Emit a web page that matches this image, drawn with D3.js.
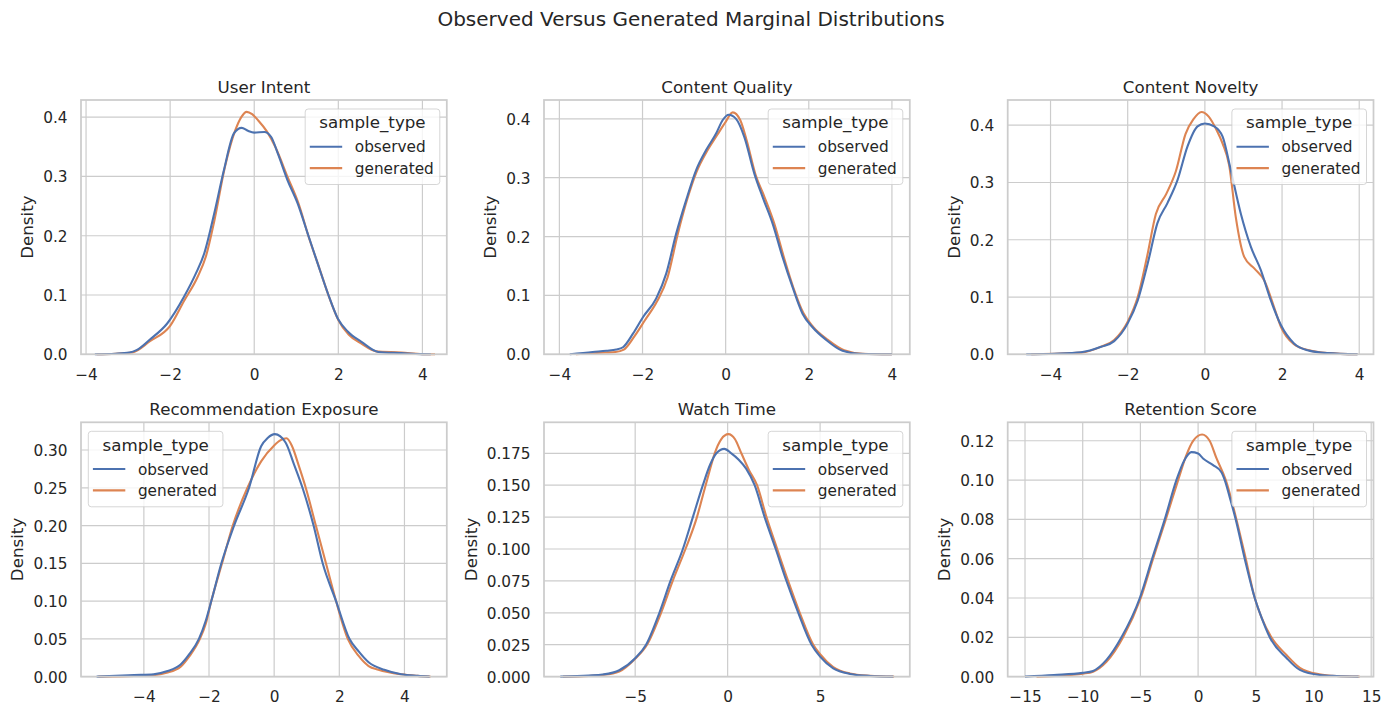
<!DOCTYPE html>
<html>
<head>
<meta charset="utf-8">
<script src="https://cdn.jsdelivr.net/npm/d3@7"></script>
<style>
  body { margin: 0; background: #fff; }
  svg { display: block; font-family: "DejaVu Sans", sans-serif; }
</style>
</head>
<body>
<svg id="chart" width="1390" height="715"></svg>
<script>
// kde curves, [x, density]
var intentObserved = [[-3.79,0],[-3.3,0.001],[-2.97,0.003],[-2.8,0.007],[-2.48,0.025],[-2.07,0.052],[-1.67,0.097],[-1.39,0.136],[-1.19,0.17],[-0.95,0.238],[-0.72,0.311],[-0.48,0.373],[-0.3,0.382],[-0.15,0.377],[0,0.374],[0.24,0.375],[0.4,0.367],[0.56,0.339],[0.79,0.294],[1.03,0.255],[1.27,0.204],[1.51,0.153],[1.75,0.103],[1.99,0.06],[2.23,0.038],[2.55,0.021],[2.95,0.004],[3.5,0.002],[3.98,0.0003],[4.2,0]];
var intentGenerated = [[-3.75,0],[-3.3,0.001],[-2.9,0.003],[-2.48,0.022],[-2.0,0.048],[-1.67,0.09],[-1.35,0.13],[-1.15,0.165],[-0.95,0.225],[-0.7,0.315],[-0.45,0.378],[-0.3,0.401],[-0.18,0.409],[-0.05,0.405],[0.1,0.394],[0.3,0.376],[0.5,0.35],[0.8,0.298],[1.05,0.255],[1.3,0.197],[1.55,0.145],[1.8,0.093],[2.0,0.058],[2.25,0.033],[2.55,0.018],[2.9,0.005],[3.5,0.003],[4.0,0.0003],[4.3,0]];

var qualityObserved = [[-3.75,0],[-3.2,0.004],[-2.87,0.006],[-2.63,0.008],[-2.47,0.012],[-2.23,0.035],[-1.99,0.063],[-1.67,0.095],[-1.43,0.137],[-1.19,0.205],[-0.95,0.262],[-0.71,0.313],[-0.47,0.347],[-0.23,0.375],[-0.07,0.398],[0.07,0.407],[0.25,0.4],[0.45,0.369],[0.69,0.307],[0.89,0.267],[1.13,0.222],[1.37,0.165],[1.61,0.114],[1.85,0.069],[2.09,0.046],[2.41,0.025],[2.81,0.006],[3.21,0.001],[4.0,0]];
var qualityGenerated = [[-3.6,0],[-2.9,0.003],[-2.65,0.004],[-2.45,0.008],[-2.2,0.03],[-1.95,0.057],[-1.65,0.09],[-1.4,0.13],[-1.15,0.205],[-0.93,0.262],[-0.7,0.31],[-0.45,0.345],[-0.2,0.373],[0,0.395],[0.17,0.411],[0.35,0.398],[0.5,0.365],[0.72,0.305],[0.93,0.268],[1.17,0.222],[1.4,0.165],[1.63,0.113],[1.87,0.07],[2.1,0.047],[2.45,0.025],[2.85,0.007],[3.3,0.001],[4.0,0]];

var noveltyObserved = [[-4.63,0],[-3.9,0.001],[-3.21,0.0035],[-2.69,0.013],[-2.35,0.023],[-2.0,0.054],[-1.74,0.094],[-1.48,0.159],[-1.23,0.229],[-0.97,0.264],[-0.71,0.304],[-0.45,0.363],[-0.19,0.398],[0,0.403],[0.24,0.398],[0.46,0.38],[0.67,0.322],[0.93,0.246],[1.19,0.188],[1.45,0.147],[1.71,0.094],[1.97,0.051],[2.31,0.019],[2.66,0.007],[3.17,0.002],[3.96,0]];
var noveltyGenerated = [[-4.5,0],[-3.9,0.001],[-3.2,0.003],[-2.7,0.013],[-2.35,0.025],[-2.0,0.057],[-1.74,0.1],[-1.5,0.17],[-1.27,0.245],[-1.0,0.28],[-0.75,0.32],[-0.5,0.385],[-0.3,0.41],[-0.09,0.423],[0.1,0.415],[0.3,0.392],[0.46,0.368],[0.63,0.33],[0.8,0.24],[1.02,0.17],[1.28,0.15],[1.54,0.129],[1.79,0.083],[1.97,0.048],[2.3,0.018],[2.7,0.007],[3.2,0.002],[3.95,0]];

var exposureObserved = [[-5.45,0],[-4.3,0.002],[-3.7,0.003],[-3.3,0.007],[-2.87,0.016],[-2.6,0.03],[-2.31,0.05],[-2.1,0.074],[-1.93,0.1],[-1.62,0.15],[-1.23,0.2],[-0.77,0.25],[-0.4,0.305],[-0.2,0.316],[0.02,0.321],[0.35,0.31],[0.6,0.282],[0.87,0.25],[1.21,0.2],[1.49,0.15],[1.9,0.1],[2.31,0.05],[2.6,0.033],[2.9,0.019],[3.38,0.009],[3.9,0.003],[4.41,0.001],[4.77,0]];
var exposureGenerated = [[-5.4,0],[-4.3,0.001],[-3.7,0.002],[-3.3,0.005],[-2.87,0.013],[-2.6,0.027],[-2.28,0.05],[-2.1,0.07],[-1.93,0.1],[-1.6,0.15],[-1.27,0.2],[-0.82,0.25],[-0.4,0.285],[0,0.306],[0.2,0.313],[0.38,0.3155],[0.55,0.305],[0.75,0.28],[0.97,0.25],[1.28,0.2],[1.59,0.15],[1.9,0.1],[2.26,0.05],[2.6,0.027],[2.9,0.014],[3.2,0.009],[3.9,0.003],[4.4,0.001],[4.8,0]];

var watchObserved = [[-9.05,0],[-7.5,0.0008],[-6.76,0.0016],[-5.86,0.005],[-5.0,0.0144],[-4.41,0.025],[-3.69,0.05],[-3.09,0.075],[-2.42,0.1],[-1.88,0.125],[-1.34,0.15],[-0.95,0.166],[-0.61,0.175],[-0.18,0.1785],[0.2,0.175],[0.6,0.17],[1.0,0.163],[1.46,0.15],[2.0,0.125],[2.6,0.1],[3.18,0.075],[3.82,0.05],[4.54,0.025],[5.0,0.0157],[5.71,0.0065],[6.62,0.0021],[7.7,0.0005],[8.95,0]];
var watchGenerated = [[-8.9,0],[-7.5,0.0005],[-6.8,0.0012],[-5.86,0.004],[-5.0,0.014],[-4.36,0.025],[-3.6,0.05],[-2.97,0.075],[-2.28,0.1],[-1.66,0.125],[-1.34,0.142],[-1.0,0.16],[-0.7,0.175],[-0.35,0.186],[0.04,0.19],[0.4,0.186],[0.74,0.175],[1.15,0.162],[1.59,0.15],[2.1,0.125],[2.68,0.1],[3.27,0.075],[3.9,0.05],[4.63,0.025],[5.0,0.0175],[5.71,0.0075],[6.6,0.0025],[7.7,0.0007],[9.0,0]];

var retentionObserved = [[-15,0],[-12.5,0.0008],[-10,0.0019],[-9.1,0.0029],[-7.94,0.0085],[-6.64,0.02],[-5.05,0.04],[-3.98,0.06],[-2.89,0.08],[-1.88,0.1],[-1.2,0.11],[-0.58,0.1142],[0,0.1135],[0.43,0.111],[1.3,0.1076],[2.02,0.104],[2.31,0.1],[2.8,0.09],[3.26,0.08],[4.04,0.06],[4.91,0.04],[5.5,0.03],[6.21,0.02],[7.66,0.0095],[8.82,0.0034],[10.55,0.0008],[12,0.0003],[13.9,0]];
var retentionGenerated = [[-14,0],[-12,0.0004],[-10,0.0015],[-9.1,0.0025],[-7.94,0.0075],[-6.5,0.02],[-4.97,0.04],[-3.9,0.06],[-2.8,0.08],[-1.73,0.1],[-1.0,0.113],[-0.43,0.12],[0.35,0.1232],[1.0,0.12],[1.6,0.111],[2.4,0.1],[3.32,0.08],[4.13,0.06],[4.91,0.04],[5.5,0.03],[6.35,0.02],[7.66,0.011],[8.82,0.0045],[10.5,0.0012],[12,0.0003],[14,0]];

var titles = ['User Intent', 'Content Quality', 'Content Novelty', 'Recommendation Exposure', 'Watch Time', 'Retention Score'];
var sampleTypes = ['observed', 'generated'];
var palette = ['#4c72b0', '#dd8452'];

var xTicksSmall = [-4, -2, 0, 2, 4];
var xTicksWatch = [-5, 0, 5];
var xTicksRetention = [-15, -10, -5, 0, 5, 10, 15];
var yTicksTenth = [0, 0.1, 0.2, 0.3, 0.4];
var yTicksExposure = [0, 0.05, 0.1, 0.15, 0.2, 0.25, 0.3];
var yTicksWatch = [0, 0.025, 0.05, 0.075, 0.1, 0.125, 0.15, 0.175];
var yTicksRetention = [0, 0.02, 0.04, 0.06, 0.08, 0.1, 0.12];

// axis limits as matplotlib left them
var xLimits = [[-4.12, 4.58], [-4.37, 4.43], [-5.11, 4.37], [-5.93, 5.3], [-9.93, 9.85], [-16.5, 15.2]];
var yLimits = [0.429, 0.432, 0.444, 0.3367, 0.1993, 0.1294];

var panels = [
  { obs: intentObserved, gen: intentGenerated, xt: xTicksSmall, yt: yTicksTenth, fmt: '.1f', legend: 'right' },
  { obs: qualityObserved, gen: qualityGenerated, xt: xTicksSmall, yt: yTicksTenth, fmt: '.1f', legend: 'right' },
  { obs: noveltyObserved, gen: noveltyGenerated, xt: xTicksSmall, yt: yTicksTenth, fmt: '.1f', legend: 'right' },
  { obs: exposureObserved, gen: exposureGenerated, xt: xTicksSmall, yt: yTicksExposure, fmt: '.2f', legend: 'left' },
  { obs: watchObserved, gen: watchGenerated, xt: xTicksWatch, yt: yTicksWatch, fmt: '.3f', legend: 'right' },
  { obs: retentionObserved, gen: retentionGenerated, xt: xTicksRetention, yt: yTicksRetention, fmt: '.2f', legend: 'right' }
];

var colLeft = [81, 544, 1007.7];
var rowTop = [100, 422.3];
var panelW = 365.8;
var panelH = 254.3;
var ink = '#262626';
var gridColor = '#cccccc';

var svg = d3.select('#chart');

svg.append('text')
  .attr('x', 691)
  .attr('y', 26)
  .attr('text-anchor', 'middle')
  .attr('fill', ink)
  .style('font-size', '20px')
  .text('Observed Versus Generated Marginal Distributions');

panels.forEach(function(p, i) {
  var left = colLeft[i % 3];
  var top = rowTop[Math.floor(i / 3)];

  var x = d3.scaleLinear().domain(xLimits[i]).range([left, left + panelW]);
  var y = d3.scaleLinear().domain([0, yLimits[i]]).range([top + panelH, top]);

  var g = svg.append('g');

  g.append('rect')
    .attr('x', left).attr('y', top)
    .attr('width', panelW).attr('height', panelH)
    .attr('fill', '#fff');

  // grid
  g.selectAll('.vgrid').data(p.xt).enter().append('line')
    .attr('x1', function(d) { return x(d); }).attr('x2', function(d) { return x(d); })
    .attr('y1', top).attr('y2', top + panelH)
    .attr('stroke', gridColor).attr('stroke-width', 1.2);
  g.selectAll('.hgrid').data(p.yt).enter().append('line')
    .attr('x1', left).attr('x2', left + panelW)
    .attr('y1', function(d) { return y(d); }).attr('y2', function(d) { return y(d); })
    .attr('stroke', gridColor).attr('stroke-width', 1.2);

  // tick labels
  var xAxis = d3.axisBottom(x).tickValues(p.xt).tickSize(0).tickPadding(0).tickFormat(d3.format('d'));
  var xg = g.append('g').attr('transform', 'translate(0,' + (top + panelH) + ')').call(xAxis);
  xg.select('.domain').remove();
  xg.selectAll('text').attr('y', 25.4).attr('dy', null)
    .attr('fill', ink).style('font-size', '15.3px').style('font-family', '"DejaVu Sans", sans-serif');

  var yAxis = d3.axisLeft(y).tickValues(p.yt).tickSize(0).tickPadding(0).tickFormat(d3.format(p.fmt));
  var yg = g.append('g').attr('transform', 'translate(' + left + ',0)').call(yAxis);
  yg.select('.domain').remove();
  yg.selectAll('text').attr('x', -13.5).attr('dy', '0.36em')
    .attr('fill', ink).style('font-size', '15.3px').style('font-family', '"DejaVu Sans", sans-serif');

  var tickBox = yg.node().getBBox();
  var labelX = left + tickBox.x - 10;
  g.append('text')
    .attr('transform', 'translate(' + labelX + ',' + (top + panelH / 2) + ') rotate(-90)')
    .attr('text-anchor', 'middle')
    .attr('fill', ink)
    .style('font-size', '16.7px')
    .text('Density');

  g.append('text')
    .attr('x', left + panelW / 2)
    .attr('y', top - 7)
    .attr('text-anchor', 'middle')
    .attr('fill', ink)
    .style('font-size', '16.7px')
    .text(titles[i]);

  // curves, generated underneath
  var line = d3.line()
    .x(function(d) { return x(d[0]); })
    .y(function(d) { return y(d[1]); })
    .curve(d3.curveMonotoneX);

  [p.gen, p.obs].forEach(function(series, k) {
    g.append('path')
      .datum(series)
      .attr('d', line)
      .attr('fill', 'none')
      .attr('stroke', palette[1 - k])
      .attr('stroke-width', 2.1)
      .attr('stroke-linejoin', 'round');
  });

  g.append('rect')
    .attr('x', left).attr('y', top)
    .attr('width', panelW).attr('height', panelH)
    .attr('fill', 'none')
    .attr('stroke', gridColor)
    .attr('stroke-width', 1.75);

  // legend
  var lg = g.append('g');
  var box = lg.append('rect')
    .attr('rx', 3).attr('ry', 3)
    .attr('fill', '#fff').attr('fill-opacity', 0.8)
    .attr('stroke', gridColor).attr('stroke-opacity', 0.8).attr('stroke-width', 1);
  var labels = lg.selectAll('.lab').data(sampleTypes).enter().append('text')
    .attr('x', 49.6)
    .attr('y', function(d, j) { return 43.3 + j * 21.4; })
    .attr('fill', ink)
    .style('font-size', '15.3px')
    .text(function(d) { return d; });
  var textW = d3.max(labels.nodes(), function(n) { return n.getComputedTextLength(); });
  var boxW = 49.6 + textW + 6;
  lg.selectAll('.handle').data(sampleTypes).enter().append('line')
    .attr('x1', 4.6).attr('x2', 37)
    .attr('y1', function(d, j) { return 37.7 + j * 21.4; })
    .attr('y2', function(d, j) { return 37.7 + j * 21.4; })
    .attr('stroke', function(d, j) { return palette[j]; })
    .attr('stroke-width', 2.1);
  lg.append('text')
    .attr('x', boxW / 2)
    .attr('y', 19.3)
    .attr('text-anchor', 'middle')
    .attr('fill', ink)
    .style('font-size', '16.7px')
    .text('sample_type');
  box.attr('width', boxW).attr('height', 75.5);

  var lx = p.legend === 'left' ? left + 7.3 : left + panelW - 7 - boxW;
  lg.attr('transform', 'translate(' + lx + ',' + (top + 9) + ')');
});
</script>
</body>
</html>
